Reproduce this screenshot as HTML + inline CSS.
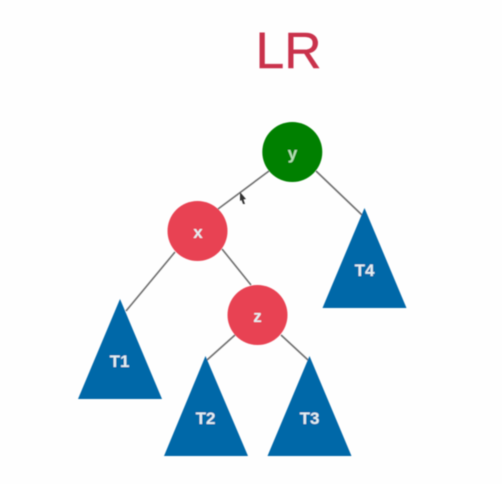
<!DOCTYPE html>
<html>
<head>
<meta charset="utf-8">
<style>
html,body{margin:0;padding:0;background:#fff;}
svg{display:block;}
text{font-family:"Liberation Sans",sans-serif;text-anchor:middle;}
.lbl{fill:#e4eef2;font-weight:700;font-size:17px;}
</style>
</head>
<body>
<svg width="502" height="484" viewBox="0 0 502 484" xmlns="http://www.w3.org/2000/svg">
<defs><filter id="b" x="-10%" y="-10%" width="120%" height="120%"><feGaussianBlur stdDeviation="0.55"/></filter></defs>
<rect width="502" height="484" fill="#fefefe"/>
<g filter="url(#b)">
<text x="288.500" y="68" font-size="51" fill="#c9304c" stroke="#c9304c" stroke-width="0.4" textLength="66" lengthAdjust="spacingAndGlyphs">LR</text>
<g stroke="#6e6e6e" stroke-width="1.6" fill="none">
<line x1="269" y1="171" x2="218" y2="209"/>
<line x1="316" y1="171" x2="362" y2="215"/>
<line x1="175" y1="252" x2="126" y2="311"/>
<line x1="222" y1="249" x2="251" y2="285"/>
<line x1="235" y1="335" x2="207" y2="360"/>
<line x1="281" y1="335" x2="308" y2="360"/>
</g>
<circle cx="292.300" cy="152" r="30" fill="#038003"/>
<circle cx="197.500" cy="231" r="30" fill="#e84253"/>
<circle cx="257.500" cy="315" r="30" fill="#e84253"/>
<polygon points="120,299 162,399 78,399" fill="#0567a8"/>
<polygon points="205.500,356 248,456 164,456" fill="#0567a8"/>
<polygon points="309.500,356 351.500,456 267.500,456" fill="#0567a8"/>
<polygon points="364.500,208 406.500,308 322.500,308" fill="#0567a8"/>
<text class="lbl" x="292.500" y="159" style="fill:#b5e0b5">y</text>
<text class="lbl" x="198" y="238">x</text>
<text class="lbl" x="257.500" y="322">z</text>
<text class="lbl" x="119.500" y="367">T1</text>
<text class="lbl" x="205.500" y="424">T2</text>
<text class="lbl" x="309.500" y="424">T3</text>
<text class="lbl" x="364.500" y="276">T4</text>
<polygon points="240,192 246,199 243.500,199.500 245,204 243,204 241.500,200 240,201" fill="#333"/>
</g>
</svg>
</body>
</html>
